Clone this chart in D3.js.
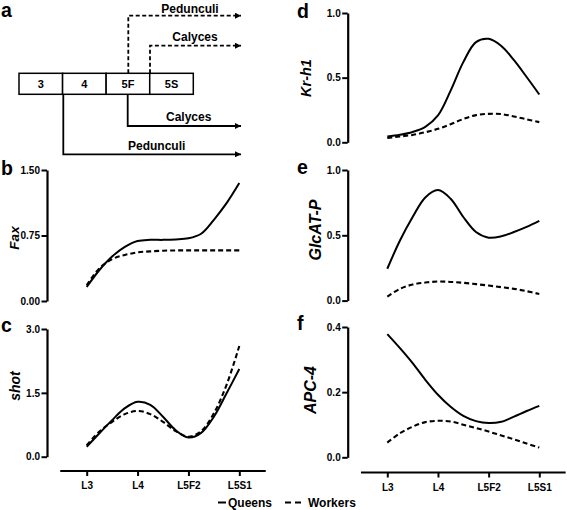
<!DOCTYPE html>
<html>
<head>
<meta charset="utf-8">
<script src="https://cdn.jsdelivr.net/npm/d3@7"></script>
<style>
  html, body { margin: 0; padding: 0; background: #fff; }
  svg { display: block; }
  text { font-family: "Liberation Sans", Arial, sans-serif; font-weight: bold; fill: #000; }
</style>
</head>
<body>
<svg id="chart" width="567" height="510"></svg>
<script>
// ---------- data ----------
const stageLabels = ["L3", "L4", "L5F2", "L5S1"];
const stagePos = [0, 0.25, 0.5, 0.75, 1, 1.25, 1.5, 1.75, 2, 2.25, 2.5, 2.75, 3];

const faxQueens   = [0.16, 0.355, 0.51, 0.62, 0.687, 0.70, 0.70, 0.705, 0.718, 0.77, 0.93, 1.12, 1.35];
const faxWorkers  = [0.18, 0.375, 0.48, 0.527, 0.557, 0.568, 0.576, 0.579, 0.58, 0.58, 0.58, 0.58, 0.58];

const shotQueens  = [0.235, 0.55, 0.86, 1.14, 1.29, 1.22, 0.94, 0.62, 0.45, 0.56, 0.94, 1.49, 2.06];
const shotWorkers = [0.27, 0.59, 0.82, 1.0, 1.075, 1.0, 0.82, 0.6, 0.47, 0.6, 1.02, 1.69, 2.6];

const krQueens    = [0.045, 0.058, 0.08, 0.12, 0.208, 0.40, 0.62, 0.775, 0.80, 0.745, 0.635, 0.505, 0.37];
const krWorkers   = [0.033, 0.045, 0.057, 0.078, 0.104, 0.14, 0.18, 0.21, 0.22, 0.218, 0.2, 0.178, 0.156];

const glcQueens   = [0.244, 0.46, 0.64, 0.79, 0.846, 0.78, 0.64, 0.525, 0.482, 0.492, 0.525, 0.564, 0.61];
const glcWorkers  = [0.031, 0.09, 0.123, 0.138, 0.146, 0.143, 0.136, 0.126, 0.115, 0.103, 0.09, 0.072, 0.051];

const apcQueens   = [0.378, 0.335, 0.289, 0.238, 0.192, 0.155, 0.127, 0.111, 0.105, 0.109, 0.125, 0.142, 0.158];
const apcWorkers  = [0.045, 0.074, 0.094, 0.108, 0.112, 0.110, 0.10, 0.09, 0.079, 0.067, 0.055, 0.042, 0.030];

const faxTicks  = [0, 0.75, 1.5];
const shotTicks = [0, 1.5, 3];
const krTicks   = [0, 0.5, 1];
const glcTicks  = [0, 0.5, 1];
const apcTicks  = [0, 0.2, 0.4];

const stageBoxes = ["3", "4", "5F", "5S"];
const legendLabels = ["Queens", "Workers"];

// ---------- drawing ----------
const svg = d3.select("#chart");
const FONT = "'Liberation Sans', Arial, sans-serif";

const xLeft  = d3.scaleLinear().domain([0, 3]).range([86.7, 239.3]);
const xRight = d3.scaleLinear().domain([0, 3]).range([387.3, 539.3]);

const panels = [
  {letter:"b", lx:1,   ly:175, title:"Fax",     tfs:13.5, tx:14,  ty:238, x:xLeft,  axisX:47,    dom:[0,1.5], rng:[301,170],   ticks:faxTicks,  fmt:".2f", q:faxQueens,  w:faxWorkers,  xAxis:false},
  {letter:"c", lx:1,   ly:332, title:"shot",    tfs:14,   tx:15,  ty:386, x:xLeft,  axisX:47,    dom:[0,3],   rng:[456.7,329], ticks:shotTicks, fmt:".1f", q:shotQueens, w:shotWorkers, xAxis:true, axY:471},
  {letter:"d", lx:297, ly:18,  title:"Kr-h1",   tfs:14.5, tx:306, ty:78,  x:xRight, axisX:347.7, dom:[0,1],   rng:[142.3,13],  ticks:krTicks,   fmt:".1f", q:krQueens,   w:krWorkers,   xAxis:false},
  {letter:"e", lx:297, ly:174, title:"GlcAT-P", tfs:16,   tx:315, ty:230, x:xRight, axisX:347.7, dom:[0,1],   rng:[300.6,170], ticks:glcTicks,  fmt:".1f", q:glcQueens,  w:glcWorkers,  xAxis:false},
  {letter:"f", lx:297, ly:330, title:"APC-4",   tfs:16,   tx:310, ty:390, x:xRight, axisX:347.7, dom:[0,0.4], rng:[457.3,327], ticks:apcTicks,  fmt:".1f", q:apcQueens,  w:apcWorkers,  xAxis:true, axY:472.5}
];

panels.forEach(p => {
  const y = d3.scaleLinear().domain(p.dom).range(p.rng);
  const g = svg.append("g");

  // panel letter
  g.append("text").attr("x", p.lx).attr("y", p.ly)
    .attr("font-size", 19.5).text(p.letter);

  // y title
  g.append("text")
    .attr("transform", `translate(${p.tx},${p.ty}) rotate(-90)`)
    .attr("text-anchor", "middle").attr("dominant-baseline", "central")
    .attr("font-style", "italic").attr("font-size", p.tfs).text(p.title);

  // y axis
  const ya = g.append("g").attr("transform", `translate(${p.axisX},0)`)
    .call(d3.axisLeft(y).tickValues(p.ticks).tickFormat(d3.format(p.fmt))
      .tickSize(5.5).tickSizeOuter(0).tickPadding(1.5));
  ya.select(".domain").attr("stroke", "#000").attr("stroke-width", 2.2);
  ya.selectAll(".tick line").attr("stroke", "#000").attr("stroke-width", 2);
  ya.selectAll(".tick text").attr("font-family", FONT).attr("font-weight", "bold")
    .attr("font-size", 10).attr("fill", "#000");

  // x axis
  if (p.xAxis) {
    const xa = g.append("g").attr("transform", `translate(0,${p.axY})`)
      .call(d3.axisBottom(p.x).tickValues([0,1,2,3]).tickFormat(i => stageLabels[i])
        .tickSize(5).tickPadding(6));
    xa.select(".domain").remove();
    xa.append("line").attr("x1", p.x(-0.52)).attr("x2", p.x(3.52))
      .attr("stroke", "#000").attr("stroke-width", 2.2);
    xa.selectAll(".tick line").attr("stroke", "#000").attr("stroke-width", 2);
    xa.selectAll(".tick text").attr("font-family", FONT).attr("font-weight", "bold")
      .attr("font-size", 10).attr("fill", "#000");
  }

  const line = d3.line().x((d, i) => p.x(stagePos[i])).y(d => y(d))
    .curve(d3.curveCatmullRom.alpha(0.5));

  g.append("path").attr("d", line(p.w)).attr("fill", "none")
    .attr("stroke", "#000").attr("stroke-width", 2.1).attr("stroke-dasharray", "5,3");
  g.append("path").attr("d", line(p.q)).attr("fill", "none")
    .attr("stroke", "#000").attr("stroke-width", 2);
});

// ---------- panel a: diagram ----------
const ga = svg.append("g");
ga.append("text").attr("x", 1).attr("y", 17).attr("font-size", 19.5).text("a");

const band = d3.scaleBand().domain(stageBoxes).range([19, 193.3]);
const boxTop = 73.3, boxBot = 94.3;
ga.selectAll("rect.cell").data(stageBoxes).enter().append("rect")
  .attr("x", d => band(d)).attr("y", boxTop)
  .attr("width", band.bandwidth()).attr("height", boxBot - boxTop)
  .attr("fill", "#fff").attr("stroke", "#000").attr("stroke-width", 1.5);
ga.selectAll("text.cell").data(stageBoxes).enter().append("text")
  .attr("x", d => band(d) + band.bandwidth() / 2).attr("y", 88)
  .attr("text-anchor", "middle").attr("font-size", 11).text(d => d);

const defs = svg.append("defs");
defs.append("marker").attr("id", "arr").attr("viewBox", "0 0 10 10")
  .attr("refX", 10).attr("refY", 5).attr("markerWidth", 7).attr("markerHeight", 6)
  .attr("markerUnits", "userSpaceOnUse").attr("orient", "auto")
  .append("path").attr("d", "M0,0 L10,5 L0,10 Z").attr("fill", "#000");

const arrowEnd = 241;
const arrows = [
  {x: 128.3, y0: boxTop, y1: 15.7, dashed: true},
  {x: 150,   y0: boxTop, y1: 45.7, dashed: true},
  {x: 127.7, y0: boxBot, y1: 126,  dashed: false},
  {x: 63.3,  y0: boxBot, y1: 154.3, dashed: false}
];
arrows.forEach(a => {
  ga.append("path")
    .attr("d", `M${a.x},${a.y0} L${a.x},${a.y1} L${arrowEnd},${a.y1}`)
    .attr("fill", "none").attr("stroke", "#000").attr("stroke-width", 1.8)
    .attr("stroke-dasharray", a.dashed ? "4,2.5" : null)
    .attr("marker-end", "url(#arr)");
});
const diagramLabels = [
  {t: "Pedunculi", x: 190,   y: 13.3},
  {t: "Calyces",   x: 195,   y: 40.5},
  {t: "Calyces",   x: 188.7, y: 121},
  {t: "Pedunculi", x: 156.7, y: 150}
];
diagramLabels.forEach(l => {
  ga.append("text").attr("x", l.x).attr("y", l.y).attr("text-anchor", "middle")
    .attr("font-size", 12).text(l.t);
});

// ---------- legend ----------
const lg = svg.append("g");
lg.append("line").attr("x1", 218).attr("x2", 226).attr("y1", 502.5).attr("y2", 502.5)
  .attr("stroke", "#000").attr("stroke-width", 2);
lg.append("text").attr("x", 228).attr("y", 507).attr("font-size", 12).text(legendLabels[0]);
lg.append("line").attr("x1", 285).attr("x2", 302).attr("y1", 502.5).attr("y2", 502.5)
  .attr("stroke", "#000").attr("stroke-width", 2).attr("stroke-dasharray", "6,4");
lg.append("text").attr("x", 308).attr("y", 507).attr("font-size", 12).text(legendLabels[1]);
</script>
</body>
</html>
